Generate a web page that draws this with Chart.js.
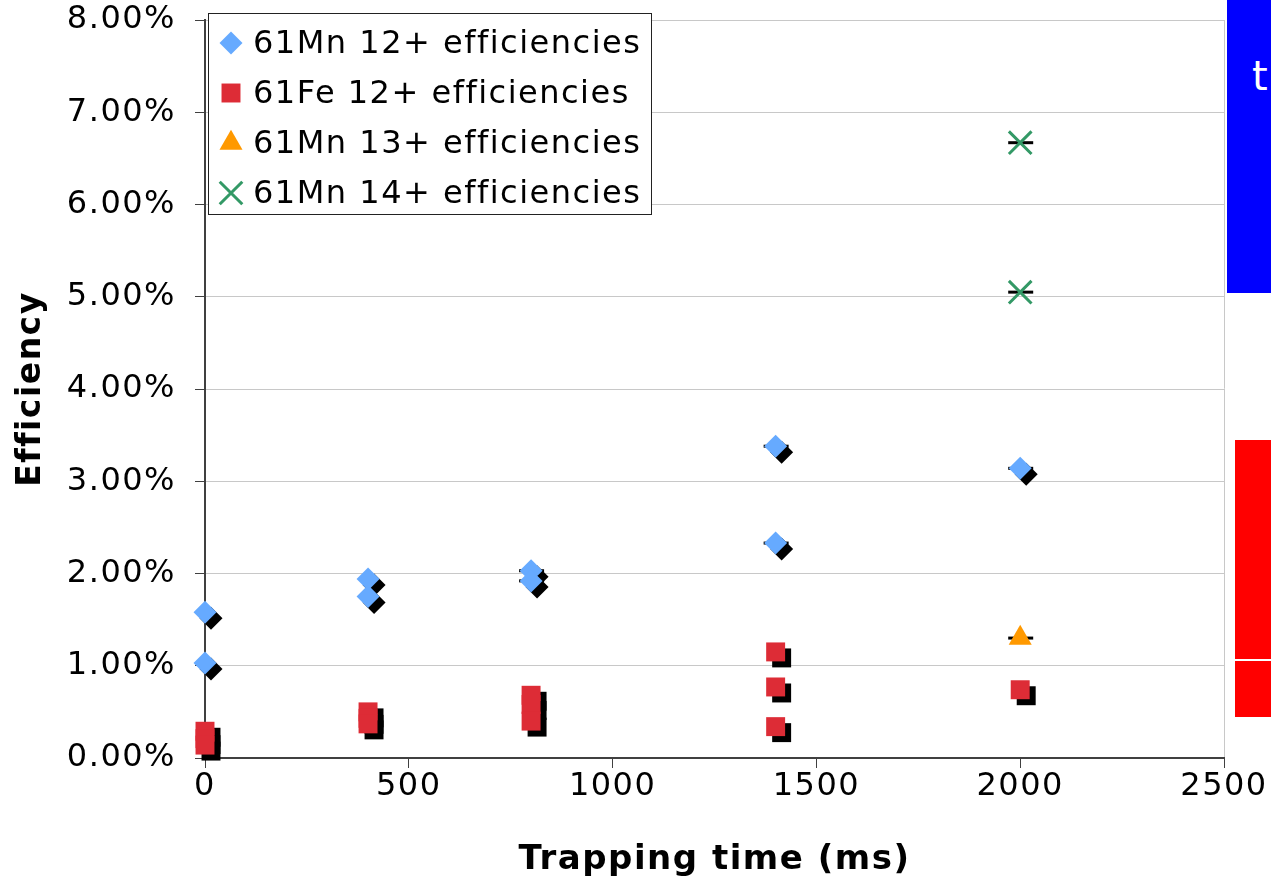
<!DOCTYPE html>
<html lang="en">
<head>
  <meta charset="UTF-8" />
  <title>Trapping efficiencies</title>
  <script src="https://cdn.jsdelivr.net/npm/chart.js"></script>
  <style>
    html, body { margin: 0; padding: 0; background: #fff; }
    #wrap { position: relative; width: 1271px; height: 884px; overflow: hidden; }
    canvas { display: block; }
    .band { position: absolute; }
    #blueBand { left: 1227px; top: 0; width: 44px; height: 293px; background: #0000ff; }
    #blueBand span { position: absolute; left: 25px; top: 56px; color: #fff; font: 40px "DejaVu Sans", sans-serif; line-height: 1; }
    #redTop { left: 1235px; top: 440px; width: 36px; height: 219px; background: #ff0000; }
    #redBottom { left: 1235px; top: 661px; width: 36px; height: 56px; background: #ff0000; }
  </style>
</head>
<body>
  <div id="wrap">
    <canvas id="chart" width="1271" height="884"></canvas>
    <div class="band" id="blueBand"><span>t</span></div>
    <div class="band" id="redTop"></div>
    <div class="band" id="redBottom"></div>
  </div>

  <script>
    // trapping time (ms) and efficiency (%) per charge state
    const mn12Time = [0, 0, 400, 400, 800, 800, 1400, 1400, 2000];
    const mn12Eff  = [1.58, 1.03, 1.94, 1.75, 2.03, 1.92, 3.38, 2.33, 3.14];

    const fe12Time = [0, 0, 0, 400, 400, 400, 800, 800, 800, 1400, 1400, 1400, 2000];
    const fe12Eff  = [0.29, 0.21, 0.14, 0.50, 0.43, 0.37, 0.68, 0.58, 0.40, 1.15, 0.77, 0.34, 0.74];

    const mn13Time = [2000];
    const mn13Eff  = [1.30];

    const mn14Time = [2000, 2000];
    const mn14Eff  = [6.67, 5.05];

    const seriesNames = [
      "61Mn 12+ efficiencies",
      "61Fe 12+ efficiencies",
      "61Mn 13+ efficiencies",
      "61Mn 14+ efficiencies"
    ];

    const FONT = "'DejaVu Sans', Verdana, sans-serif";
    const SPACING = "1.5px";

    function pts(xs, ys) {
      return xs.map((x, i) => ({ x: x, y: ys[i] }));
    }

    // small black error bar caps and the offset black drop shadow
    const markerEffects = {
      id: "markerEffects",
      beforeDraw(chart) {
        chart.ctx.letterSpacing = SPACING;
      },
      beforeDatasetDraw(chart, args) {
        const ds = chart.data.datasets[args.index];
        const ctx = chart.ctx;
        if (ds.capsFrom !== undefined) {
          ctx.save();
          ctx.strokeStyle = "#000";
          ctx.lineWidth = 3;
          args.meta.data.forEach((p, i) => {
            if (ds.data[i].x < ds.capsFrom) return;
            ctx.beginPath();
            ctx.moveTo(p.x - 12, p.y);
            ctx.lineTo(p.x + 13, p.y);
            ctx.stroke();
          });
          ctx.restore();
        }
        ctx.save();
        if (ds.shadow) {
          ctx.shadowColor = "#000";
          ctx.shadowOffsetX = 6;
          ctx.shadowOffsetY = 6;
          ctx.shadowBlur = 0;
        }
      },
      afterDatasetDraw(chart) {
        chart.ctx.restore();
      }
    };

    // boxed legend sitting inside the plot, top left
    const boxLegend = {
      id: "boxLegend",
      afterDraw(chart) {
        const ctx = chart.ctx;
        ctx.save();
        ctx.letterSpacing = SPACING;
        ctx.fillStyle = "#fff";
        ctx.fillRect(208.5, 13.5, 443, 201);
        ctx.strokeStyle = "#222";
        ctx.lineWidth = 1;
        ctx.strokeRect(208.5, 13.5, 443, 201);
        chart.data.datasets.forEach((ds, i) => {
          const y = 43 + i * 50;
          ctx.fillStyle = ds.backgroundColor;
          ctx.strokeStyle = ds.borderColor;
          ctx.lineWidth = ds.pointBorderWidth;
          Chart.helpers.drawPoint(ctx, {
            pointStyle: ds.pointStyle,
            radius: ds.pointRadius,
            rotation: 0,
            borderWidth: ds.pointBorderWidth
          }, 231, y);
          ctx.fillStyle = "#000";
          ctx.font = "32px " + FONT;
          ctx.textAlign = "left";
          ctx.textBaseline = "middle";
          ctx.fillText(ds.label, 253, y + 2);
        });
        ctx.restore();
      }
    };

    new Chart(document.getElementById("chart"), {
      type: "scatter",
      data: {
        datasets: [
          {
            label: seriesNames[0],
            data: pts(mn12Time, mn12Eff),
            pointStyle: "rectRot",
            pointRadius: 11.5,
            pointBorderWidth: 0,
            backgroundColor: "#66aaff",
            borderColor: "#66aaff",
            shadow: true,
            capsFrom: 800
          },
          {
            label: seriesNames[1],
            data: pts(fe12Time, fe12Eff),
            pointStyle: "rect",
            pointRadius: 13.4,
            pointBorderWidth: 0,
            backgroundColor: "#dd2c36",
            borderColor: "#dd2c36",
            shadow: true
          },
          {
            label: seriesNames[2],
            data: pts(mn13Time, mn13Eff),
            pointStyle: "triangle",
            pointRadius: 13.3,
            pointBorderWidth: 0,
            backgroundColor: "#ff9900",
            borderColor: "#ff9900",
            capsFrom: 0
          },
          {
            label: seriesNames[3],
            data: pts(mn14Time, mn14Eff),
            pointStyle: "crossRot",
            pointRadius: 16,
            pointBorderWidth: 3,
            backgroundColor: "#339966",
            borderColor: "#339966",
            capsFrom: 0
          }
        ]
      },
      options: {
        responsive: false,
        animation: false,
        clip: false,
        layout: { padding: { top: 20, right: 47, left: 0, bottom: 0 } },
        plugins: {
          legend: { display: false },
          tooltip: { enabled: false }
        },
        scales: {
          x: {
            type: "linear",
            min: 0,
            max: 2500,
            ticks: {
              stepSize: 500,
              color: "#000",
              padding: -1,
              font: { family: FONT, size: 32 },
              callback: v => String(v)
            },
            grid: {
              color: ctx => (ctx.tick && ctx.tick.value === 2500 ? "#c8c8c8" : "transparent"),
              tickColor: "#404040",
              tickLength: 10
            },
            border: { color: "#404040", width: 2 },
            title: {
              display: true,
              text: "Trapping time (ms)",
              color: "#000",
              font: { family: FONT, size: 34, weight: "bold" },
              padding: { bottom: 3 }
            },
            afterFit: s => {
              s.height = 126;
              s.paddingLeft = 0;
              s.paddingRight = 0;
            }
          },
          y: {
            min: 0,
            max: 8,
            ticks: {
              stepSize: 1,
              color: "#000",
              padding: 19,
              font: { family: FONT, size: 32 },
              callback: v => v.toFixed(2) + "%"
            },
            grid: {
              color: "#c8c8c8",
              tickColor: "#404040",
              tickLength: 10
            },
            border: { color: "#404040", width: 2 },
            title: {
              display: true,
              text: "Efficiency",
              color: "#000",
              font: { family: FONT, size: 33, weight: "bold" },
              padding: { top: 12 }
            },
            afterFit: s => {
              s.width = 205;
              s.paddingTop = 0;
              s.paddingBottom = 0;
            }
          }
        }
      },
      plugins: [markerEffects, boxLegend]
    });
  </script>
</body>
</html>
